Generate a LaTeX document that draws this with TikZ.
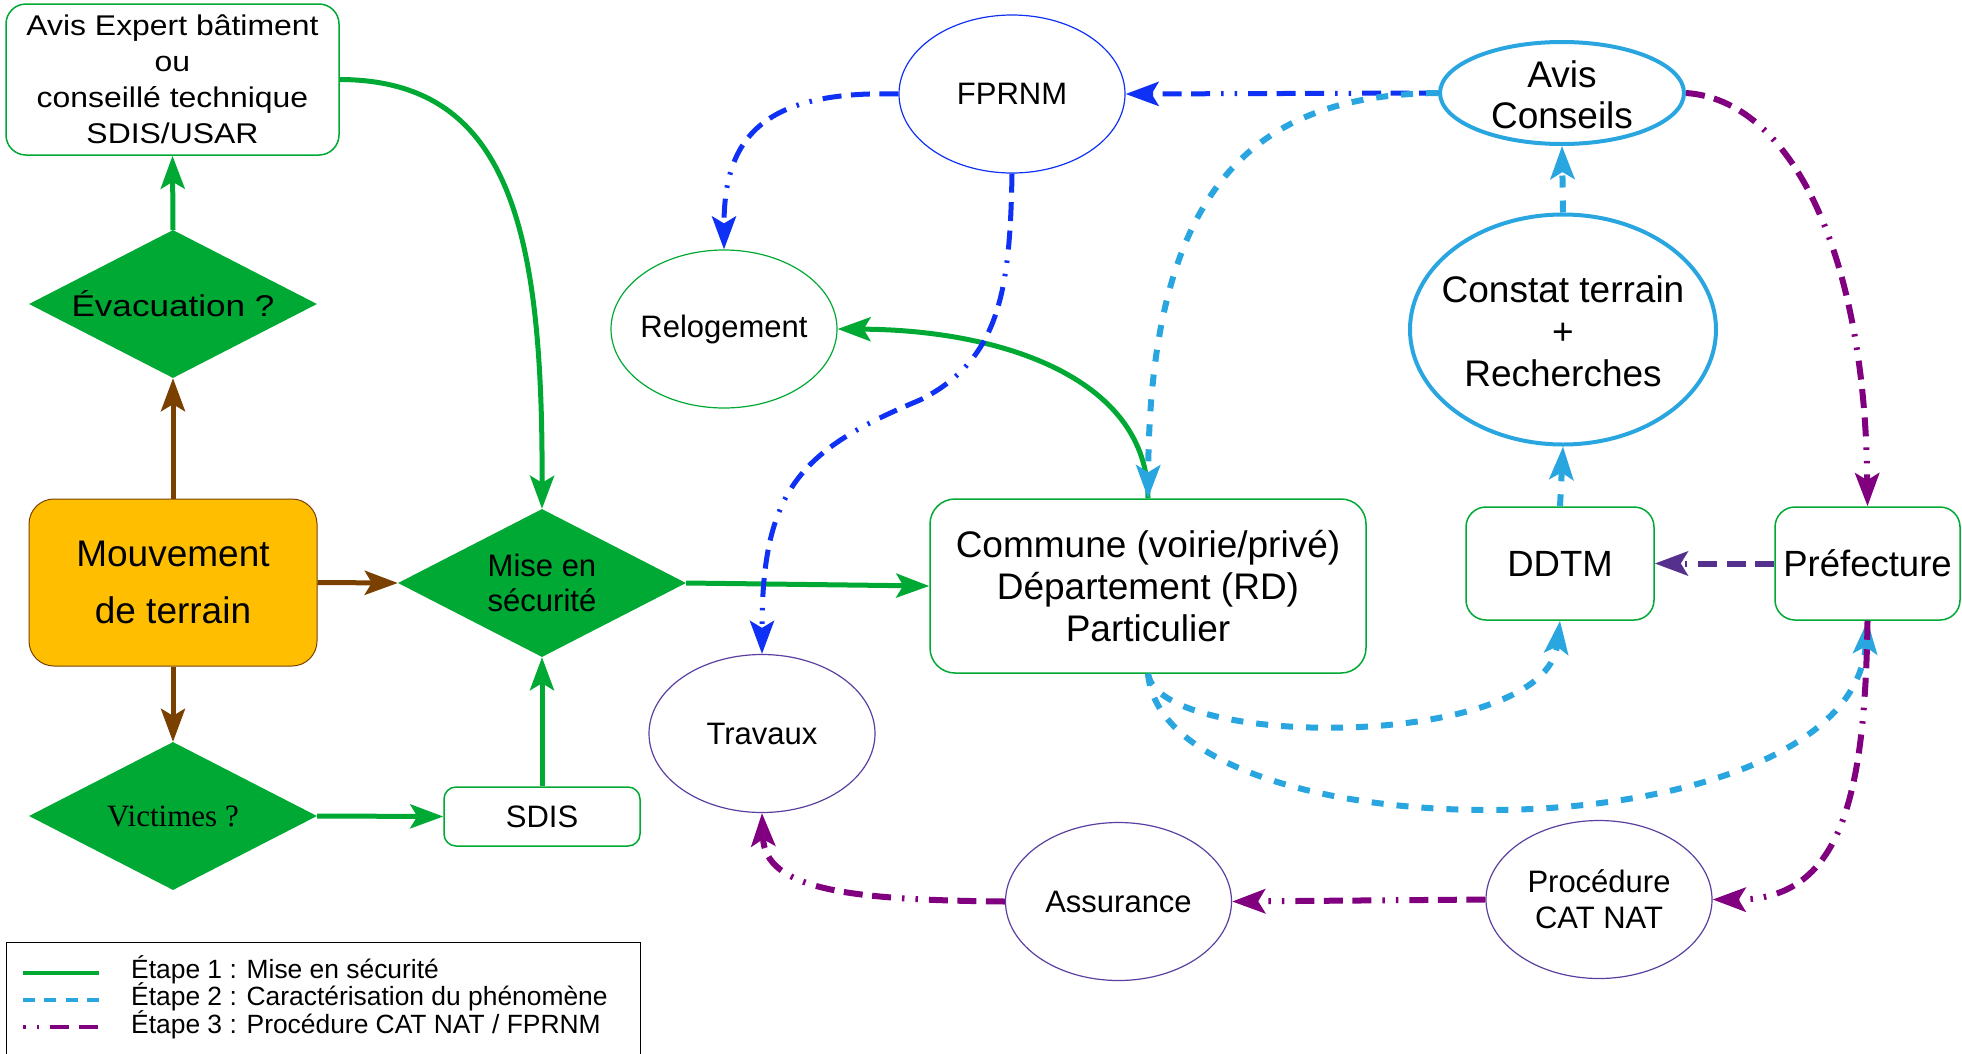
\documentclass[tikz,border=0pt]{standalone}
\usepackage{fontspec}
\setmainfont{Liberation Sans}
\newfontfamily\wideA[FakeStretch=1.12]{Liberation Sans}
\newfontfamily\wideB[FakeStretch=1.17]{Liberation Sans}
\newfontfamily\serifA{Liberation Serif}
\usetikzlibrary{shapes.geometric,arrows.meta}
\definecolor{cgreen}{HTML}{00A933}
\definecolor{clblue}{HTML}{29A5E0}
\definecolor{cblue}{HTML}{0F30F5}
\definecolor{cpurple}{HTML}{800080}
\definecolor{cindigo}{HTML}{55308D}
\definecolor{cpurpl2}{HTML}{5B3FA0}
\definecolor{cbrown}{HTML}{7A4000}
\definecolor{corange}{HTML}{FFBF00}
\begin{document}
\begin{tikzpicture}[x=1pt,y=-1pt,
  gbox/.style={draw=cgreen, line width=1.5pt, rounded corners=20pt, fill=white, inner sep=0pt, align=center},
  dia/.style={diamond, fill=cgreen, inner sep=0pt, shape aspect=2, minimum width=288pt, minimum height=148pt, align=center},
  ell/.style={ellipse, inner sep=0pt, line width=1.2pt, minimum width=226pt, minimum height=158pt},
  txt/.style={align=center, inner sep=0pt},
  conn/.style={line width=5pt, -{Stealth[length=33pt,width=24pt,inset=7pt]}},
  sone/.style={conn, draw=cgreen},
  sbr/.style={conn, draw=cbrown},
  stwo/.style={conn, draw=clblue, line width=6pt, dash pattern=on 12pt off 13pt},
  dd/.style={dash pattern=on 19pt off 9.5pt on 19pt off 9.5pt on 19pt off 11pt on 2.5pt off 11pt on 2.5pt off 11pt},
  sthreeb/.style={conn, draw=cblue, dd},
  sthreep/.style={conn, draw=cpurple, line width=6pt, dd},
  sthreei/.style={conn, draw=cindigo, line width=6pt, dd},
  f31/.style={font=\fontsize{31}{36}\selectfont},
  f37/.style={font=\fontsize{37}{42}\selectfont},
  legt/.style={anchor=base west, inner sep=0pt, font=\fontsize{26.4}{28}\selectfont}]
\useasboundingbox (0,0) rectangle (1962,1053);

% nodes
\node[gbox, minimum width=333pt, minimum height=151pt, font=\wideA\fontsize{28.5}{36}\selectfont] (expert) at (172.5,79.5) {Avis Expert bâtiment\\ou\\conseillé technique\\SDIS/USAR};
\node[dia, font=\wideB\fontsize{30}{34}\selectfont] (evac) at (173,304) {Évacuation ?};
\node[draw=cbrown, fill=corange, line width=1pt, rounded corners=25pt, minimum width=288pt, minimum height=167pt, align=center, inner sep=0pt, font=\fontsize{37}{57}\selectfont] (mvt) at (173,582.5) {Mouvement\\de terrain};
\node[dia, font=\serifA\fontsize{31}{36}\selectfont] (vict) at (173,816) {Victimes ?};
\node[dia, font=\fontsize{31}{35}\selectfont] (mise) at (542,583) {Mise en\\sécurité};
\node[gbox, rounded corners=12pt, minimum width=196pt, minimum height=59pt, f31] (sdis) at (542,816.5) {SDIS};

\node[ell, draw=cgreen] (relog) at (724,329) {};
\node[txt, f31] (relogt) at (relog) {Relogement};
\node[ell, draw=cblue] (fprnm) at (1012,94) {};
\node[txt, f31] (fprnmt) at (fprnm) {FPRNM};
\node[ell, draw=clblue, line width=4pt, minimum width=244pt, minimum height=102pt] (avis) at (1562,93) {};
\node[txt, font=\fontsize{37}{41}\selectfont] (avist) at (1562,94.5) {Avis\\Conseils};
\node[ell, draw=clblue, line width=4pt, minimum width=306pt, minimum height=230pt] (constat) at (1563,329.5) {};
\node[txt, f37] (constatt) at (1563,331) {Constat terrain\\+\\Recherches};

\node[gbox, minimum width=436pt, minimum height=174pt, rounded corners=25pt, f37] (commune) at (1148,586) {Commune (voirie/privé)\\Département (RD)\\Particulier};
\node[gbox, minimum width=188pt, minimum height=113pt, font=\fontsize{36.5}{42}\selectfont] (ddtm) at (1560,563.5) {DDTM};
\node[gbox, minimum width=185pt, minimum height=113pt, font=\fontsize{36.5}{42}\selectfont] (pref) at (1867.5,563.5) {Préfecture};

\node[ell, draw=cpurpl2] (trav) at (762,733.5) {};
\node[txt, f31] (travt) at (trav) {Travaux};
\node[ell, draw=cpurpl2] (assur) at (1118.5,901.5) {};
\node[txt, f31] (assurt) at (assur) {Assurance};
\node[ell, draw=cpurpl2] (proc) at (1599,899.5) {};
\node[txt, f31] (proct) at (proc) {Procédure\\CAT NAT};

% connectors - step 1
\draw[sone] (evac.north) -- (expert.south);
\draw[sbr] (mvt.north) -- (evac.south);
\draw[sbr] (mvt.south) -- (vict.north);
\draw[sbr] (mvt.east) -- (mise.west);
\draw[sone] (vict.east) -- (sdis.west);
\draw[sone] (sdis.north) -- (mise.south);
\draw[sone] (expert.east) .. controls (510,80) and (543,230) .. (mise.north);
\draw[sone] (mise.east) -- (commune.west);
\draw[sone] (commune.north) .. controls (1148,380) and (1005,330) .. (relog.east);

% step 3 blue
\draw[sthreeb] (fprnm.west) .. controls (760,90) and (724,140) .. (relog.north);
\draw[sthreeb] (fprnm.south) .. controls (1010,290) and (1000,360) .. (920,400) .. controls (800,450) and (762,490) .. (trav.north);
\draw[sthreeb] (avis.west) -- (fprnm.east);

% step 2
\draw[stwo] (avis.west) .. controls (1260,95) and (1150,180) .. (commune.north);
\draw[stwo] (constat.north) -- (avis.south);
\draw[stwo] (ddtm.north) -- (constat.south);
\draw[stwo] (commune.south) .. controls (1160,750) and (1545,750) .. (ddtm.south);
\draw[stwo] (commune.south) .. controls (1165,860) and (1850,860) .. (pref.south);

% step 3 purple
\draw[sthreep] (avis.east) .. controls (1790,100) and (1865,250) .. (pref.north);
\draw[sthreei] (pref.west) -- (ddtm.east);
\draw[sthreep] (pref.south) .. controls (1865,800) and (1840,900) .. (proc.east);
\draw[sthreep] (proc.west) -- (assur.east);
\draw[sthreep] (assur.west) .. controls (850,900) and (765,890) .. (trav.south);

% legend
\node[draw=black, line width=1pt, minimum width=634pt, minimum height=130pt, anchor=north west, inner sep=0pt] (legbox) at (6,942) {};
\coordinate (la1) at (23,973); \coordinate (lb1) at (99,973);
\coordinate (la2) at (23,1000); \coordinate (lb2) at (99,1000);
\coordinate (la3) at (23,1027); \coordinate (lb3) at (99,1027);
\draw[line width=4pt, cgreen] (la1) -- (lb1);
\draw[line width=4pt, clblue, dash pattern=on 12pt off 9.3pt] (la2) -- (lb2);
\draw[line width=4pt, cpurple, dd, dash phase=87pt] (la3) -- (lb3);
\node[legt] (leg1) at (131,978) {Étape 1 : Mise en sécurité};
\node[legt] (leg2) at (131,1005.5) {Étape 2 : Caractérisation du phénomène};
\node[legt] (leg3) at (131,1033) {Étape 3 : Procédure CAT NAT / FPRNM};
\end{tikzpicture}
\end{document}
